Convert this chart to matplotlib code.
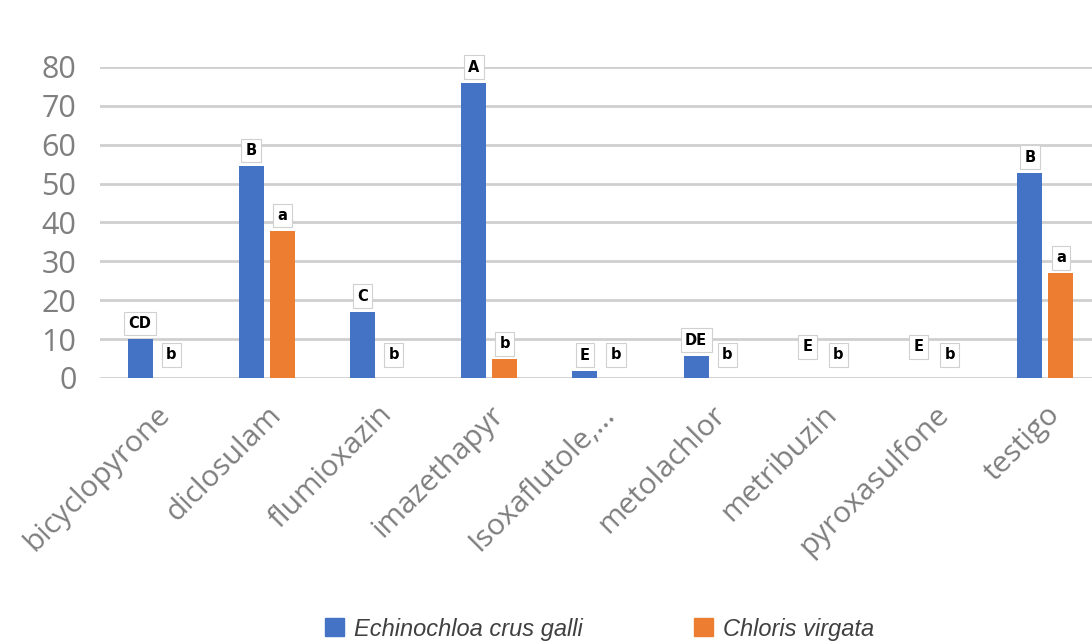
import numpy as np
import matplotlib.pyplot as plt
from matplotlib.patches import Patch

# data
herbicides = ['bicyclopyrone', 'diclosulam', 'flumioxazin', 'imazethapyr', 'Isoxaflutole,...',
              'metolachlor', 'metribuzin', 'pyroxasulfone', 'testigo']
echinochloa = [10.0, 54.5, 17.0, 76.0, 1.9, 5.7, 0.0, 0.0, 52.8]
chloris = [0.0, 37.8, 0.0, 4.8, 0.0, 0.0, 0.0, 0.0, 26.9]
echinochloa_letters = ['CD', 'B', 'C', 'A', 'E', 'DE', 'E', 'E', 'B']
chloris_letters = ['b', 'a', 'b', 'b', 'b', 'b', 'b', 'b', 'a']
series_names = ['Echinochloa crus galli', 'Chloris virgata']

blue = '#4472C4'
orange = '#ED7D31'
tick_gray = '#7f7f7f'

fig = plt.figure(figsize=(10.92, 6.42), dpi=100)
ax = fig.add_axes([100 / 1092, 1 - 378 / 642, 1 - 100 / 1092, (378 - 67) / 642])

x = np.arange(len(herbicides))
w = 0.225
off = 0.14
ax.bar(x - off, echinochloa, w, color=blue, zorder=3)
ax.bar(x + off, chloris, w, color=orange, zorder=3)

box = dict(boxstyle='square,pad=0.3', fc='white', ec='#d0d0d0', lw=0.8)
for xi, v, lab in zip(x - off, echinochloa, echinochloa_letters):
    ax.text(xi, v + (4 if v > 0 else 8), lab, ha='center', va='center', fontsize=10.5,
            fontweight='bold', family='DejaVu Sans', bbox=box, zorder=4, clip_on=False)
for xi, v, lab in zip(x + off, chloris, chloris_letters):
    ax.text(xi, v + (4 if v > 0 else 6), lab, ha='center', va='center', fontsize=10.5,
            fontweight='bold', family='DejaVu Sans', bbox=box, zorder=4, clip_on=False)

ax.set_ylim(0, 80)
ax.set_xlim(-0.5, 8.42)
ax.set_yticks(range(0, 81, 10))
ax.yaxis.grid(True, color='#cfcfcf', lw=2, zorder=0)
for s in ax.spines.values():
    s.set_visible(False)
ax.tick_params(axis='y', length=0, pad=17, labelsize=22, labelcolor=tick_gray)
ax.tick_params(axis='x', length=0, pad=16, labelsize=21.5, labelcolor=tick_gray)
for t in ax.get_yticklabels():
    t.set_family('Open Sans')
ax.set_xticks(x)
ax.set_xticklabels(herbicides, rotation=45, ha='right', va='top',
                   rotation_mode='anchor', family='Open Sans')

handles = [Patch(color=blue), Patch(color=orange)]
fig.legend(handles, series_names, loc='center', bbox_to_anchor=(0.549, 0.02), ncol=2,
           frameon=False, prop={'family': 'Liberation Sans', 'style': 'italic', 'size': 17},
           labelcolor='#404040', handlelength=0.8, handleheight=0.8, handletextpad=0.42,
           columnspacing=4.7)

fig.savefig('out.png', dpi=100)
